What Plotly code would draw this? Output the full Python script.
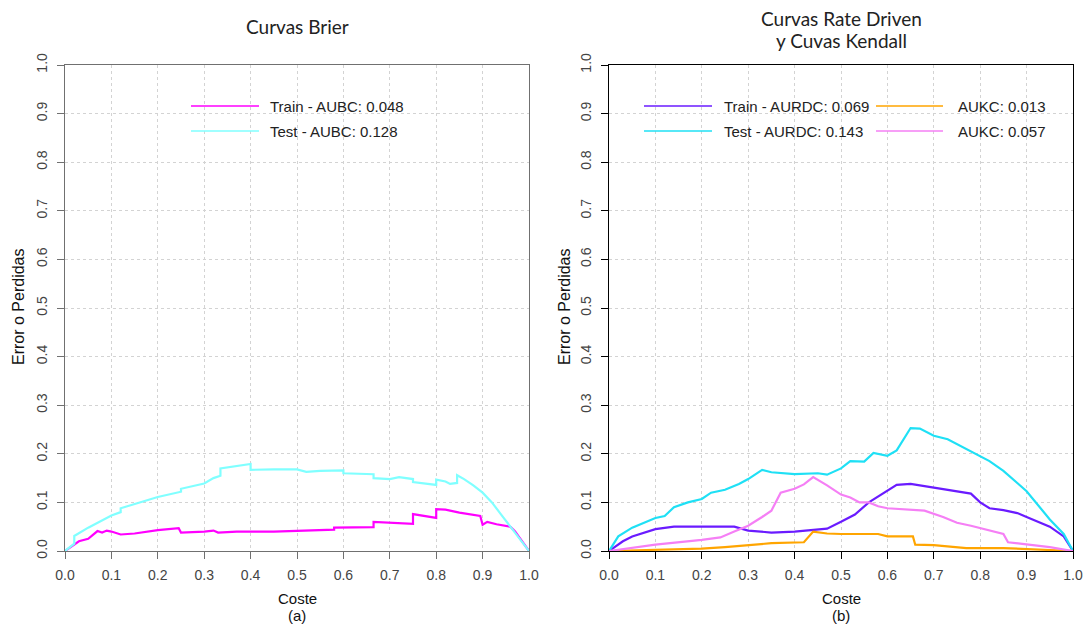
import plotly.graph_objects as go

# ---------------- data ----------------
# Panel (a): Brier curves
brier_train_x = [0.0, 0.02, 0.03, 0.05, 0.07, 0.08, 0.09, 0.10, 0.11, 0.12, 0.15, 0.20, 0.245, 0.25, 0.30, 0.32, 0.33,
                 0.37, 0.45, 0.50, 0.58, 0.58, 0.665, 0.665, 0.70, 0.75, 0.75, 0.80, 0.80, 0.82, 0.85, 0.88, 0.895,
                 0.90, 0.91, 0.93, 0.95, 0.96, 0.97, 1.0]
brier_train_y = [0.0, 0.013, 0.02, 0.025, 0.041, 0.038, 0.042, 0.040, 0.037, 0.034, 0.036, 0.043, 0.047, 0.038, 0.040,
                 0.042, 0.038, 0.040, 0.040, 0.042, 0.044, 0.048, 0.049, 0.060, 0.058, 0.056, 0.076, 0.068, 0.086,
                 0.085, 0.079, 0.074, 0.072, 0.054, 0.060, 0.055, 0.052, 0.050, 0.040, 0.0]

brier_test_x = [0.0, 0.02, 0.02, 0.05, 0.10, 0.12, 0.12, 0.20, 0.25, 0.25, 0.30, 0.32, 0.335, 0.335, 0.40, 0.40,
                0.45, 0.50, 0.52, 0.55, 0.60, 0.60, 0.665, 0.665, 0.70, 0.72, 0.75, 0.75, 0.80, 0.80, 0.82, 0.83,
                0.845, 0.845, 0.86, 0.88, 0.90, 0.92, 0.94, 0.96, 0.97, 1.0]
brier_test_y = [0.0, 0.015, 0.031, 0.048, 0.073, 0.080, 0.088, 0.111, 0.122, 0.128, 0.139, 0.150, 0.155, 0.170,
                0.179, 0.167, 0.168, 0.168, 0.163, 0.165, 0.166, 0.160, 0.158, 0.150, 0.148, 0.152, 0.148, 0.142,
                0.136, 0.147, 0.143, 0.138, 0.140, 0.156, 0.148, 0.135, 0.120, 0.100, 0.075, 0.050, 0.040, 0.0]

# Panel (b): Rate driven and Kendall curves
rd_train_x = [0.0, 0.03, 0.05, 0.10, 0.14, 0.27, 0.30, 0.33, 0.35, 0.40, 0.44, 0.47, 0.50, 0.53, 0.56, 0.60, 0.62,
              0.65, 0.70, 0.75, 0.78, 0.80, 0.82, 0.85, 0.88, 0.90, 0.95, 0.98, 1.0]
rd_train_y = [0.0, 0.020, 0.030, 0.045, 0.050, 0.050, 0.042, 0.040, 0.038, 0.040, 0.044, 0.046, 0.060, 0.075,
              0.100, 0.125, 0.136, 0.138, 0.130, 0.122, 0.118, 0.100, 0.088, 0.084, 0.078, 0.070, 0.050, 0.030, 0.0]

rd_test_x = [0.0, 0.02, 0.05, 0.10, 0.12, 0.14, 0.17, 0.20, 0.22, 0.25, 0.28, 0.30, 0.33, 0.35, 0.40, 0.45, 0.47,
             0.50, 0.52, 0.55, 0.57, 0.60, 0.62, 0.65, 0.67, 0.70, 0.73, 0.76, 0.80, 0.82, 0.85, 0.90, 0.95, 0.98, 1.0]
rd_test_y = [0.0, 0.030, 0.048, 0.068, 0.072, 0.090, 0.100, 0.107, 0.120, 0.126, 0.138, 0.148, 0.167, 0.162,
             0.158, 0.160, 0.157, 0.170, 0.185, 0.184, 0.202, 0.196, 0.207, 0.253, 0.252, 0.237, 0.230, 0.215,
             0.195, 0.185, 0.165, 0.123, 0.065, 0.035, 0.0]

kc_a_x = [0.0, 0.10, 0.20, 0.25, 0.30, 0.35, 0.42, 0.44, 0.47, 0.50, 0.58, 0.60, 0.655, 0.66, 0.70, 0.75, 0.77,
          0.85, 0.90, 0.95, 1.0]
kc_a_y = [0.0, 0.002, 0.005, 0.008, 0.012, 0.016, 0.018, 0.040, 0.036, 0.035, 0.035, 0.030, 0.030, 0.013, 0.012,
          0.008, 0.006, 0.006, 0.004, 0.002, 0.0]

kc_b_x = [0.0, 0.10, 0.20, 0.24, 0.27, 0.30, 0.33, 0.35, 0.37, 0.40, 0.42, 0.44, 0.47, 0.50, 0.52, 0.54, 0.56,
          0.58, 0.60, 0.65, 0.68, 0.72, 0.75, 0.78, 0.82, 0.85, 0.86, 0.90, 0.95, 1.0]
kc_b_y = [0.0, 0.013, 0.023, 0.028, 0.040, 0.052, 0.070, 0.083, 0.120, 0.128, 0.137, 0.152, 0.135, 0.116, 0.110,
          0.100, 0.100, 0.092, 0.088, 0.085, 0.083, 0.070, 0.058, 0.052, 0.043, 0.035, 0.018, 0.014, 0.008, 0.0]

tick_vals = [0.0, 0.1, 0.2, 0.3, 0.4, 0.5, 0.6, 0.7, 0.8, 0.9, 1.0]
tick_text = ["0.0", "0.1", "0.2", "0.3", "0.4", "0.5", "0.6", "0.7", "0.8", "0.9", "1.0"]

legend_a = ["Train - AUBC: 0.048", "Test - AUBC: 0.128"]
legend_b = ["Train - AURDC: 0.069", "Test - AURDC: 0.143", "AUKC: 0.013", "AUKC: 0.057"]

# ---------------- styling ----------------
C_MAG = "#FF00FF"
C_CYAN_L = "#80FFFF"
C_PURPLE = "#6A1BFF"
C_CYAN = "#1FE0F5"
C_ORANGE = "#FFA500"
C_VIOLET = "#F57FF5"

W, H = 1089, 630
TICKF = dict(family="Liberation Sans, Arial, sans-serif", size=14, color="#444444")


def px(x):
    return x / W


def py(y):
    return 1 - y / H


fig = go.Figure()

series = [
    (brier_train_x, brier_train_y, C_MAG, "x", "y"),
    (brier_test_x, brier_test_y, C_CYAN_L, "x", "y"),
    (rd_train_x, rd_train_y, C_PURPLE, "x2", "y2"),
    (rd_test_x, rd_test_y, C_CYAN, "x2", "y2"),
    (kc_a_x, kc_a_y, C_ORANGE, "x2", "y2"),
    (kc_b_x, kc_b_y, C_VIOLET, "x2", "y2"),
]
for xs, ys, col, xa, ya in series:
    fig.add_trace(go.Scatter(x=xs, y=ys, mode="lines", line=dict(color=col, width=2.2),
                             xaxis=xa, yaxis=ya, showlegend=False, hoverinfo="skip"))

axis_common = dict(range=[0, 1], tickvals=tick_vals, ticktext=tick_text, ticks="outside", ticklen=7,
                   showgrid=True, gridcolor="#D3D3D3", griddash="dot", gridwidth=1, automargin=False,
                   showline=True, mirror=True, zeroline=False, tickfont=TICKF)

y_dom = [py(551), py(65)]
fig.update_layout(
    template="none",
    width=W, height=H, margin=dict(l=0, r=0, t=0, b=0, autoexpand=False),
    paper_bgcolor="white", plot_bgcolor="white", showlegend=False,
    xaxis=dict(domain=[px(65), px(529)], anchor="y", linecolor="#707070", tickcolor="#707070",
               ticklabelstandoff=4, **axis_common),
    yaxis=dict(domain=y_dom, anchor="x", tickangle=-90, linecolor="#707070", tickcolor="#707070",
               ticklabelstandoff=4, **axis_common),
    xaxis2=dict(domain=[px(609), px(1073)], anchor="y2", linecolor="#000000", tickcolor="#000000",
                ticklabelstandoff=4, **axis_common),
    yaxis2=dict(domain=y_dom, anchor="x2", tickangle=-90, linecolor="#000000", tickcolor="#000000",
                ticklabelstandoff=4, **axis_common),
)

ann = []
shapes = []
TITLEF = dict(family="Lato, DejaVu Sans, sans-serif", size=19, color="#222222")
LABF = dict(family="Liberation Sans, Arial, sans-serif", size=15, color="#111111")
YLABF = dict(family="Liberation Sans, Arial, sans-serif", size=16, color="#111111")


def add_text(x, y, text, font, **kw):
    d = dict(x=px(x), y=py(y), xref="paper", yref="paper", text=text, showarrow=False,
             xanchor="center", yanchor="middle", font=font)
    d.update(kw)
    ann.append(d)


add_text(297, 27, "Curvas Brier", TITLEF)
add_text(841, 18, "Curvas Rate Driven", TITLEF)
add_text(841, 40, "y Cuvas Kendall", TITLEF)
for cx, lab in [(297, "(a)"), (841, "(b)")]:
    add_text(cx, 598, "Coste", LABF)
    add_text(cx, 615, lab, LABF)
for cx in [18, 564]:
    add_text(cx, 307, "Error o Perdidas", YLABF, textangle=-90)

# legends
LEGF = dict(family="Liberation Sans, Arial, sans-serif", size=15, color="#222222")
leg_items = [
    (191, 259, 268, 106, C_MAG, legend_a[0]),
    (191, 259, 268, 131, C_CYAN_L, legend_a[1]),
    (644, 712, 722, 106, C_PURPLE, legend_b[0]),
    (644, 712, 722, 131, C_CYAN, legend_b[1]),
    (876, 943, 956, 106, C_ORANGE, legend_b[2]),
    (876, 943, 956, 131, C_VIOLET, legend_b[3]),
]
for x0, x1, tx, yy, col, txt in leg_items:
    shapes.append(dict(type="line", xref="paper", yref="paper", x0=px(x0), x1=px(x1), y0=py(yy), y1=py(yy),
                       line=dict(color=col, width=1.5)))
    add_text(tx, yy, txt, LEGF, xanchor="left")

fig.update_layout(annotations=ann, shapes=shapes)
fig.write_html("out.html")
